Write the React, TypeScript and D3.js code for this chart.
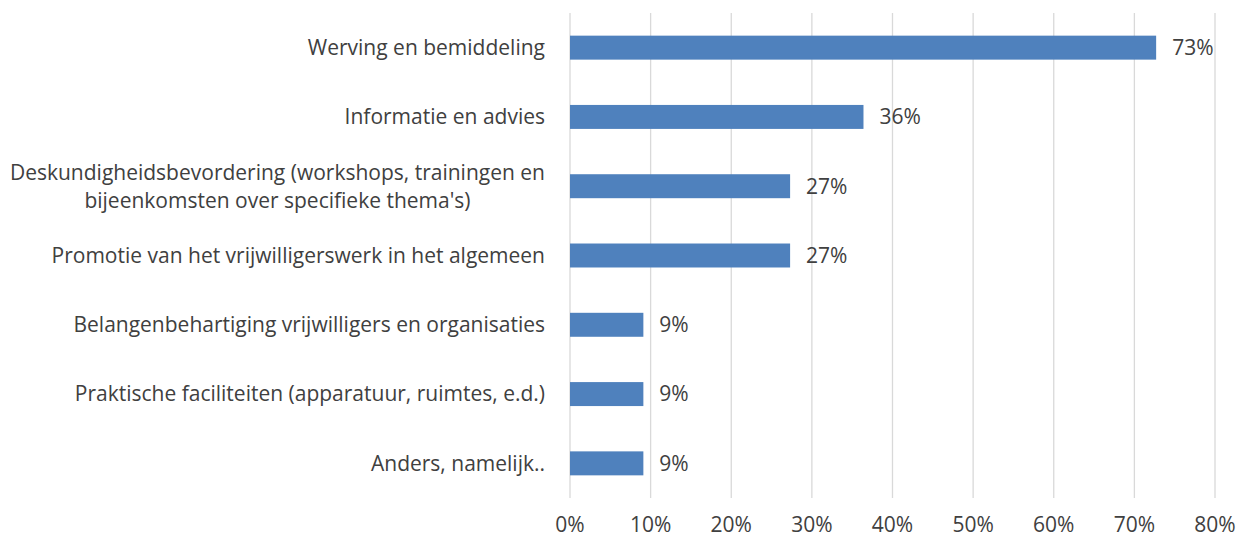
import React, { useEffect, useRef } from 'react';
import * as d3 from 'd3';

// categories top to bottom
const categories = [
  'Werving en bemiddeling',
  'Informatie en advies',
  "Deskundigheidsbevordering (workshops, trainingen en|bijeenkomsten over specifieke thema's)",
  'Promotie van het vrijwilligerswerk in het algemeen',
  'Belangenbehartiging vrijwilligers en organisaties',
  'Praktische faciliteiten (apparatuur, ruimtes, e.d.)',
  'Anders, namelijk..',
];
const values = [72.7, 36.4, 27.3, 27.3, 9.1, 9.1, 9.1];
const ticks = [0, 10, 20, 30, 40, 50, 60, 70, 80];

const App = () => {
  const ref = useRef<SVGSVGElement>(null);

  useEffect(() => {
    const width = 1238;
    const height = 538;
    const margin = { top: 13, right: 23, bottom: 40, left: 570 };
    const font = '"Open Sans", sans-serif';
    const fontSize = 21;
    const textColor = '#404040';

    const svg = d3.select(ref.current);
    svg.selectAll('*').remove();

    const x = d3.scaleLinear().domain([0, 80]).range([margin.left, width - margin.right]);
    const y = d3.scaleBand<string>()
      .domain(categories)
      .range([margin.top, height - margin.bottom])
      .paddingInner(0.654)
      .paddingOuter(0.327);

    // gridlines
    svg.append('g')
      .selectAll('line')
      .data(ticks)
      .enter()
      .append('line')
      .attr('x1', d => x(d))
      .attr('x2', d => x(d))
      .attr('y1', margin.top)
      .attr('y2', height - margin.bottom)
      .attr('stroke', '#d9d9d9')
      .attr('stroke-width', 1.3);

    // bars
    svg.append('g')
      .selectAll('rect')
      .data(values)
      .enter()
      .append('rect')
      .attr('x', x(0))
      .attr('y', (_, i) => y(categories[i])!)
      .attr('width', d => x(d) - x(0))
      .attr('height', y.bandwidth())
      .attr('fill', '#4f81bd');

    // value labels
    svg.append('g')
      .selectAll('text')
      .data(values)
      .enter()
      .append('text')
      .attr('x', d => x(d) + 16)
      .attr('y', (_, i) => y(categories[i])! + y.bandwidth() / 2)
      .attr('dy', '0.35em')
      .attr('font-family', font)
      .attr('font-size', fontSize)
      .attr('fill', textColor)
      .text(d => `${Math.round(d)}%`);

    // category labels (multi-line centred, block right aligned)
    const labels = svg.append('g');
    categories.forEach((c) => {
      const lines = c.split('|');
      const cy = y(c)! + y.bandwidth() / 2;
      const t = labels.append('text')
        .attr('font-family', font)
        .attr('font-size', fontSize)
        .attr('fill', textColor)
        .attr('text-anchor', 'middle');
      lines.forEach((l, j) => {
        t.append('tspan')
          .attr('x', 0)
          .attr('y', cy + (j - (lines.length - 1) / 2) * 28)
          .attr('dy', '0.35em')
          .text(l);
      });
      const bb = (t.node() as SVGTextElement).getBBox();
      t.attr('transform', `translate(${545 - (bb.x + bb.width)},0)`);
    });

    // x axis tick labels
    svg.append('g')
      .selectAll('text')
      .data(ticks)
      .enter()
      .append('text')
      .attr('x', d => x(d))
      .attr('y', 525)
      .attr('dy', '0.35em')
      .attr('text-anchor', 'middle')
      .attr('font-family', font)
      .attr('font-size', fontSize)
      .attr('fill', textColor)
      .text(d => `${d}%`);
  }, []);

  return (
    <svg
      ref={ref}
      width={1238}
      height={538}
      style={{ position: 'absolute', left: 0, top: 0, background: '#fff' }}
    />
  );
};

export default App;
